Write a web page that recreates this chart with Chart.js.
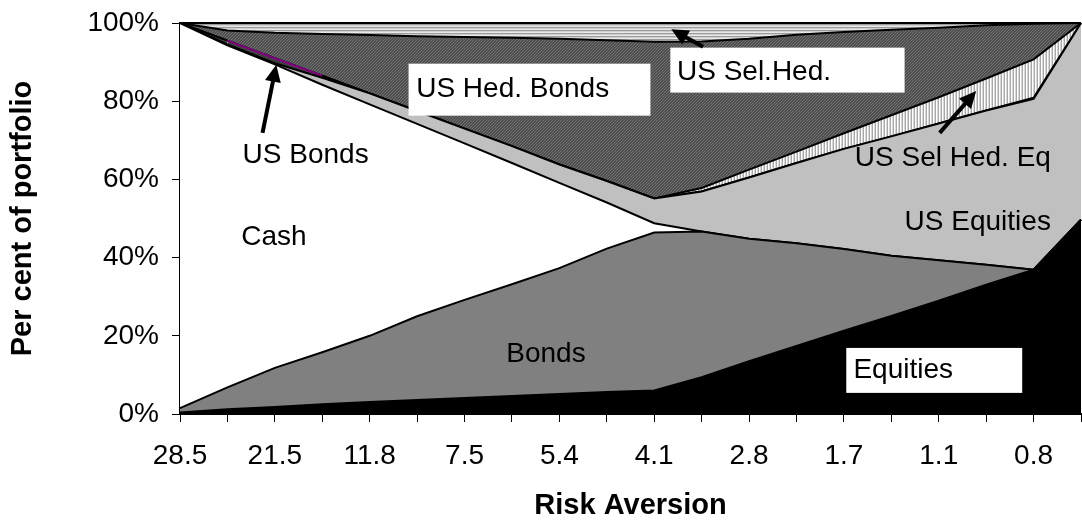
<!DOCTYPE html>
<html><head><meta charset="utf-8">
<script src="https://cdn.jsdelivr.net/npm/chart.js@4.4.1/dist/chart.umd.min.js"></script>
<style>html,body{margin:0;padding:0;background:#fff;}canvas{display:block;}</style>
</head><body>
<canvas id="c" width="1082" height="528"></canvas>
<script>
// ---- data (percent of portfolio, stacked bottom to top) ----
const categories = ['28.5','','21.5','','11.8','','7.5','','5.4','','4.1','','2.8','','1.7','','1.1','','0.8',''];
const equities   = [0.4,1.2,1.8,2.5,3.1,3.6,4.1,4.6,5.1,5.6,6.0,9.4,13.5,17.4,21.3,25.1,29.0,33.1,36.9,49.7];
const bonds      = [1.1,5.6,10.0,13.3,16.9,21.4,25.1,28.6,32.2,36.7,40.4,37.3,31.3,26.3,20.9,15.4,10.3,5.1,0,0];
const cash       = [98.5,87.5,77.6,68.4,59.2,49.2,40.0,31.0,21.8,11.8,2.4,0,0,0,0,0,0,0,0,0];
const usEquities = [0,0.2,0.3,1.8,2.8,3.3,3.8,4.3,4.7,5.5,6.3,10.2,15.7,20.5,25.6,30.5,35.0,39.4,43.7,50.3];
const usBonds    = [0,1.0,1.3,0.5,0,0,0,0,0,0,0,0,0,0,0,0,0,0,0.3,0];
const usSelHedEq = [0,0,0,0,0,0,0,0,0,0,0,0.9,2.0,2.9,4.0,5.4,6.7,8.2,9.8,0];
const usHedBonds = [0,2.6,6.5,10.7,14.9,19.1,23.4,27.7,32.2,36.0,40.1,37.5,33.5,29.9,25.9,21.9,17.8,13.6,9.1,0];
const usSelHed   = [0,1.9,2.5,2.8,3.1,3.4,3.6,3.8,4.0,4.4,4.8,4.7,4.0,3.0,2.3,1.7,1.2,0.6,0.2,0];
const yTicks = [0,20,40,60,80,100];

// ---- annotations in data coordinates (category index, percent) ----
const textNotes = [
  {text:'US Hed. Bonds', x:4.98, y:81.2, box:[4.82,89.6,9.92,76.3]},
  {text:'US Sel.Hed.',   x:10.48, y:85.5, box:[10.34,93.7,15.28,82.2]},
  {text:'US Bonds',      x:1.32, y:64.2},
  {text:'Cash',          x:1.29, y:43.3},
  {text:'Bonds',         x:6.88, y:13.3},
  {text:'Equities',      x:14.2, y:9.3, box:[14.05,16.9,17.76,5.4]},
  {text:'US Equities',   x:15.28, y:47.1},
  {text:'US Sel Hed. Eq',x:14.23, y:63.4}
];
const arrowNotes = [
  {from:[1.74,71.9], to:[2.03,89.3]},
  {from:[11.03,93.9], to:[10.36,98.4]},
  {from:[16.02,71.9], to:[16.79,82.6]}
];

const FONT = "'Liberation Sans', Arial, sans-serif";
const canvas = document.getElementById('c');
const ctx = canvas.getContext('2d');

function makePattern(w, h, fn) {
  const c = document.createElement('canvas');
  c.width = w; c.height = h;
  const g = c.getContext('2d');
  for (let i = 0; i < w; i++) for (let j = 0; j < h; j++) { g.fillStyle = fn(i, j); g.fillRect(i, j, 1, 1); }
  return ctx.createPattern(c, 'repeat');
}
const patVert = makePattern(3, 1, (i) => ['#ffffff', '#d8d8d8', '#a8a8a8'][i]);
const patDark = makePattern(3, 3, (i, j) => ((i + j) % 3 === 0 ? '#727272' : '#4e4e4e'));
const patHorz = makePattern(1, 3, (i, j) => ['#9c9c9c', '#cfcfcf', '#e8e8e8'][j]);

const series = [
  {label:'Equities', data:equities, bg:'#000000'},
  {label:'Bonds', data:bonds, bg:'#808080'},
  {label:'Cash', data:cash, bg:'#ffffff'},
  {label:'US Equities', data:usEquities, bg:'#c0c0c0'},
  {label:'US Bonds', data:usBonds, bg:'#404040', purple:true},
  {label:'US Sel Hed. Eq', data:usSelHedEq, bg:patVert},
  {label:'US Hed. Bonds', data:usHedBonds, bg:patDark},
  {label:'US Sel.Hed.', data:usSelHed, bg:patHorz}
];

const datasets = series.map((s, i) => {
  const d = {
    label: s.label, data: s.data, backgroundColor: s.bg,
    borderColor: '#000', borderWidth: 2, pointRadius: 0, pointHoverRadius: 0,
    tension: 0, fill: i === 0 ? 'origin' : '-1', clip: 3
  };
  if (s.purple) {
    d.segment = {borderColor: c => (s.data[c.p0DataIndex] > 0 && s.data[c.p1DataIndex] > 0) ? '#800080' : '#000'};
  }
  return d;
});

const annotate = {
  id: 'annotate',
  afterDatasetsDraw(chart) {
    const {ctx} = chart;
    const xs = chart.scales.x, ys = chart.scales.y;
    const px = v => xs.getPixelForValue(v), py = v => ys.getPixelForValue(v);
    ctx.save();
    textNotes.forEach(n => {
      if (n.box) {
        const x0 = px(n.box[0]), y0 = py(n.box[1]), x1 = px(n.box[2]), y1 = py(n.box[3]);
        ctx.fillStyle = '#fff';
        ctx.fillRect(x0, y0, x1 - x0, y1 - y0);
      }
    });
    ctx.fillStyle = '#000';
    ctx.font = '28px ' + FONT;
    ctx.textBaseline = 'alphabetic';
    ctx.textAlign = 'left';
    textNotes.forEach(n => ctx.fillText(n.text, px(n.x), py(n.y)));
    arrowNotes.forEach(a => {
      const x0 = px(a.from[0]), y0 = py(a.from[1]), x1 = px(a.to[0]), y1 = py(a.to[1]);
      const ang = Math.atan2(y1 - y0, x1 - x0);
      const hl = 17, hw = 8;
      const bx = x1 - hl * Math.cos(ang), by = y1 - hl * Math.sin(ang);
      ctx.strokeStyle = '#000'; ctx.lineWidth = 4; ctx.lineCap = 'butt';
      ctx.beginPath(); ctx.moveTo(x0, y0); ctx.lineTo(bx + 2 * Math.cos(ang), by + 2 * Math.sin(ang)); ctx.stroke();
      ctx.beginPath();
      ctx.moveTo(x1, y1);
      ctx.lineTo(bx + hw * Math.sin(ang), by - hw * Math.cos(ang));
      ctx.lineTo(bx - hw * Math.sin(ang), by + hw * Math.cos(ang));
      ctx.closePath(); ctx.fill();
    });
    ctx.restore();
  }
};

new Chart(ctx, {
  type: 'line',
  data: {labels: categories, datasets},
  plugins: [annotate],
  options: {
    responsive: false, animation: false, devicePixelRatio: 1,
    layout: {padding: {top: 23, right: 1, bottom: 0, left: 0}},
    plugins: {legend: {display: false}, tooltip: {enabled: false}},
    elements: {line: {borderJoinStyle: 'miter'}},
    scales: {
      x: {
        type: 'category', offset: false,
        grid: {drawOnChartArea: false, drawTicks: true, tickLength: 8, color: '#000', lineWidth: 1, offset: false},
        border: {display: true, color: '#000', width: 2},
        ticks: {autoSkip: false, maxRotation: 0, minRotation: 0, padding: 17, color: '#000', font: {family: FONT, size: 28}},
        title: {display: true, text: 'Risk Aversion', color: '#000', font: {family: FONT, size: 29, weight: 'bold'}, padding: {top: 0, bottom: 5}},
        afterFit(s) { s.height = 114; s.paddingLeft = 0; s.paddingRight = 0; }
      },
      y: {
        stacked: true, min: 0, max: 100,
        afterBuildTicks(s) { s.ticks = yTicks.map(v => ({value: v})); },
        ticks: {callback: v => v + '%', padding: 13, color: '#000', font: {family: FONT, size: 28}},
        grid: {drawOnChartArea: false, drawTicks: true, tickLength: 8, color: '#000', lineWidth: 1},
        border: {display: true, color: '#000', width: 2},
        title: {display: true, text: 'Per cent of portfolio', color: '#000', font: {family: FONT, size: 29, weight: 'bold'}, padding: {top: 6, bottom: 0}},
        afterFit(s) { s.width = 180; s.paddingTop = 0; s.paddingBottom = 0; }
      }
    }
  }
});
</script>
</body></html>
